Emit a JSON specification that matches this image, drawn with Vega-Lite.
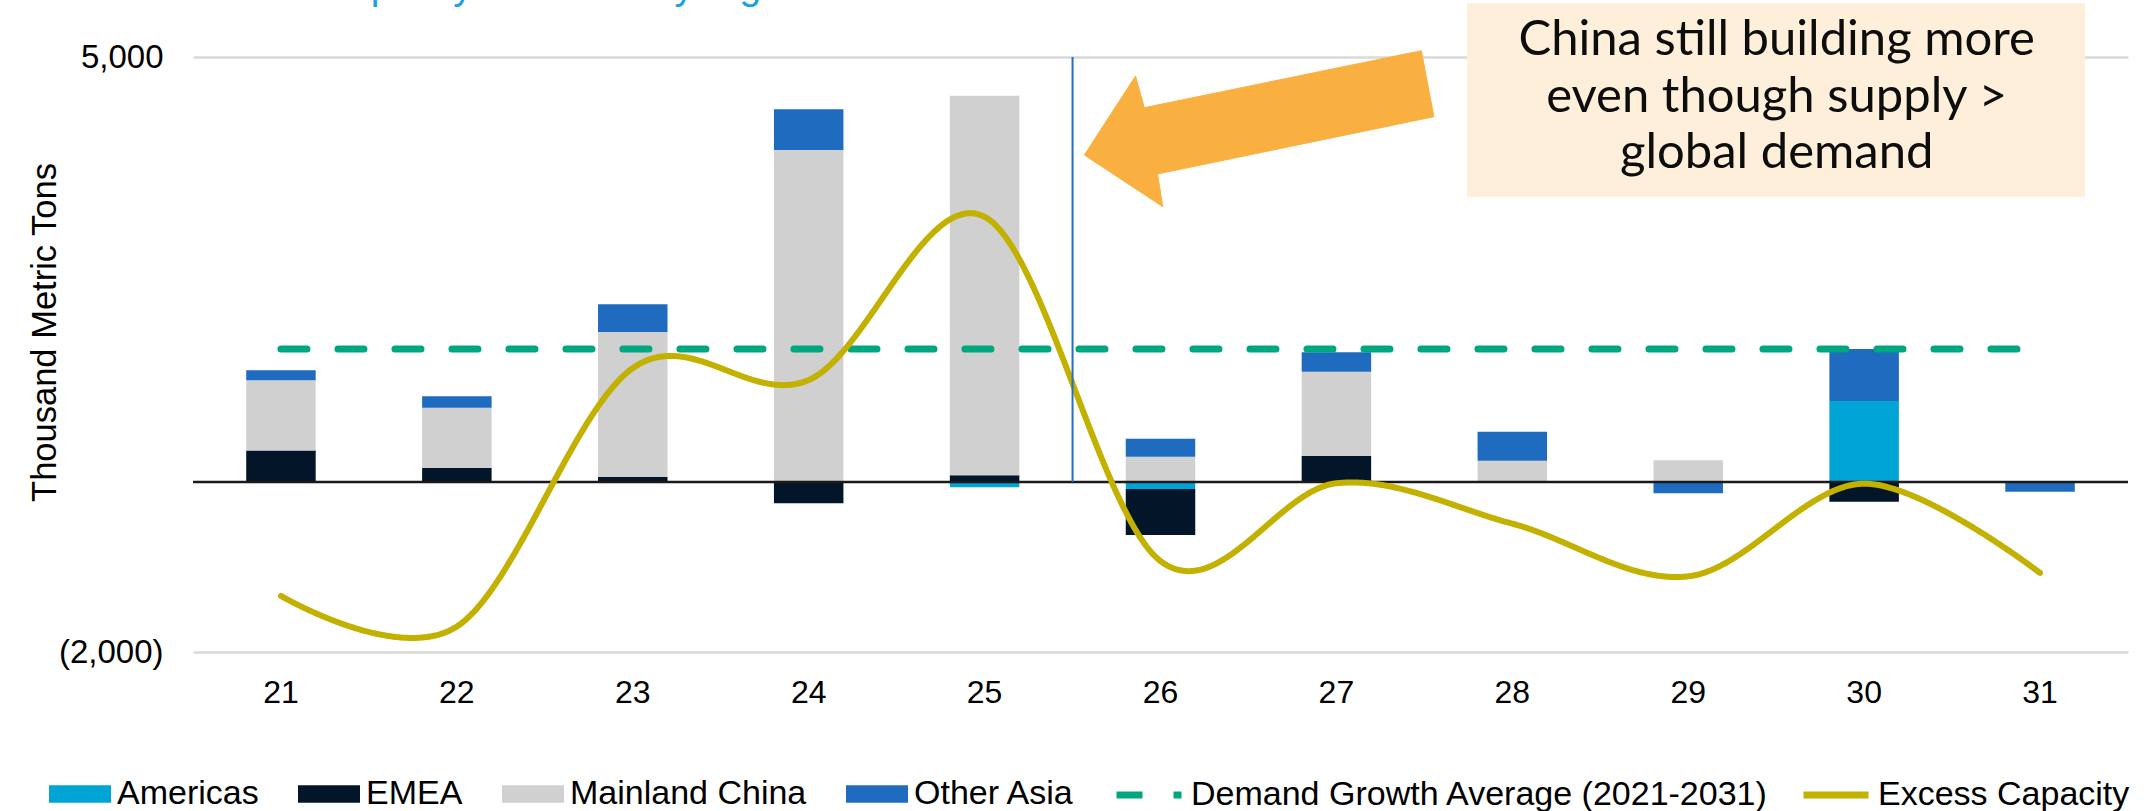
{
  "$schema": "https://vega.github.io/schema/vega-lite/v6.json",
  "width": 1935,
  "height": 595,
  "autosize": {"type": "none"},
  "padding": {"left": 193, "top": 57, "right": 21, "bottom": 159},
  "background": "white",
  "config": {"font": "Liberation Sans", "view": {"stroke": null}},
  "title": {
    "text": "Capacity Additions by region",
    "anchor": "start",
    "frame": "group",
    "font": "Liberation Sans",
    "fontSize": 39,
    "fontWeight": "normal",
    "color": "#1BA1DB",
    "dx": 128,
    "offset": -4
  },
  "datasets": {
    "bars": [
      {"year": "21", "region": "Americas", "value": 10},
      {"year": "21", "region": "EMEA", "value": 361},
      {"year": "21", "region": "Mainland China", "value": 827},
      {"year": "21", "region": "Other Asia", "value": 118},
      {"year": "22", "region": "EMEA", "value": 165},
      {"year": "22", "region": "Mainland China", "value": 709},
      {"year": "22", "region": "Other Asia", "value": 134},
      {"year": "23", "region": "EMEA", "value": 59},
      {"year": "23", "region": "Mainland China", "value": 1706},
      {"year": "23", "region": "Other Asia", "value": 326},
      {"year": "24", "region": "EMEA", "value": -251},
      {"year": "24", "region": "Mainland China", "value": 3906},
      {"year": "24", "region": "Other Asia", "value": 479},
      {"year": "25", "region": "Americas", "value": -62},
      {"year": "25", "region": "EMEA", "value": 79},
      {"year": "25", "region": "Mainland China", "value": 4466},
      {"year": "26", "region": "Americas", "value": -82},
      {"year": "26", "region": "EMEA", "value": -542},
      {"year": "26", "region": "Mainland China", "value": 298},
      {"year": "26", "region": "Other Asia", "value": 211},
      {"year": "27", "region": "EMEA", "value": 306},
      {"year": "27", "region": "Mainland China", "value": 992},
      {"year": "27", "region": "Other Asia", "value": 228},
      {"year": "28", "region": "Mainland China", "value": 251},
      {"year": "28", "region": "Other Asia", "value": 341},
      {"year": "29", "region": "Mainland China", "value": 255},
      {"year": "29", "region": "Other Asia", "value": -133},
      {"year": "30", "region": "Americas", "value": 953},
      {"year": "30", "region": "EMEA", "value": -232},
      {"year": "30", "region": "Other Asia", "value": 612},
      {"year": "31", "region": "Other Asia", "value": -114}
    ],
    "demand": [
      {"year": "21", "series": "Demand Growth Average (2021-2031)", "value": 1565},
      {"year": "22", "series": "Demand Growth Average (2021-2031)", "value": 1565},
      {"year": "23", "series": "Demand Growth Average (2021-2031)", "value": 1565},
      {"year": "24", "series": "Demand Growth Average (2021-2031)", "value": 1565},
      {"year": "25", "series": "Demand Growth Average (2021-2031)", "value": 1565},
      {"year": "26", "series": "Demand Growth Average (2021-2031)", "value": 1565},
      {"year": "27", "series": "Demand Growth Average (2021-2031)", "value": 1565},
      {"year": "28", "series": "Demand Growth Average (2021-2031)", "value": 1565},
      {"year": "29", "series": "Demand Growth Average (2021-2031)", "value": 1565},
      {"year": "30", "series": "Demand Growth Average (2021-2031)", "value": 1565},
      {"year": "31", "series": "Demand Growth Average (2021-2031)", "value": 1565}
    ],
    "excess": [
      {"year": "21", "series": "Excess Capacity", "value": -1340},
      {"year": "22", "series": "Excess Capacity", "value": -1700},
      {"year": "23", "series": "Excess Capacity", "value": 1340},
      {"year": "24", "series": "Excess Capacity", "value": 1200},
      {"year": "25", "series": "Excess Capacity", "value": 3120},
      {"year": "26", "series": "Excess Capacity", "value": -930},
      {"year": "27", "series": "Excess Capacity", "value": -15},
      {"year": "28", "series": "Excess Capacity", "value": -490},
      {"year": "29", "series": "Excess Capacity", "value": -1110},
      {"year": "30", "series": "Excess Capacity", "value": -20},
      {"year": "31", "series": "Excess Capacity", "value": -1070}
    ],
    "arrow": [
      {"i": 1, "x": 25.567, "v": 3847},
      {"i": 2, "x": 25.858, "v": 4776},
      {"i": 3, "x": 25.908, "v": 4404},
      {"i": 4, "x": 27.483, "v": 5074},
      {"i": 5, "x": 27.554, "v": 4298},
      {"i": 6, "x": 25.983, "v": 3624},
      {"i": 7, "x": 26.013, "v": 3239}
    ]
  },
  "layer": [
    {
      "layer": [
        {
          "data": {"name": "bars"},
          "mark": {"type": "bar"},
          "encoding": {
            "x": {
              "field": "year",
              "type": "ordinal",
              "scale": {"paddingInner": 0.605, "paddingOuter": 0.3025},
              "axis": {
                "title": null,
                "labelAngle": 0,
                "domain": false,
                "ticks": false,
                "tickSize": 0,
                "grid": false,
                "labelPadding": 25,
                "labelFont": "Liberation Sans",
                "labelFontSize": 32,
                "labelColor": "#000000"
              }
            },
            "y": {
              "field": "value",
              "type": "quantitative",
              "scale": {"domain": [-2000, 5000], "nice": false, "zero": false},
              "axis": {
                "title": "Thousand Metric Tons",
                "values": [-2000, 5000],
                "grid": true,
                "gridColor": "#D9D9D9",
                "gridWidth": 2.5,
                "domain": false,
                "ticks": false,
                "tickSize": 0,
                "labelPadding": 30,
                "labelFont": "Liberation Sans",
                "labelFontSize": 33,
                "labelColor": "#000000",
                "labelExpr": "datum.value < 0 ? '(' + format(-datum.value, ',') + ')' : format(datum.value, ',') + '\u00a0'",
                "titleFont": "Liberation Sans",
                "titleFontSize": 34.5,
                "titleFontWeight": "normal",
                "titleColor": "#000000",
                "titleAngle": 270,
                "titleAlign": "center",
                "titleBaseline": "alphabetic",
                "titleX": -138,
                "titleY": 275
              }
            },
            "fill": {
              "field": "region",
              "type": "nominal",
              "scale": {
                "domain": ["Americas", "EMEA", "Mainland China", "Other Asia"],
                "range": ["#00A5D5", "#021529", "#CFD0CF", "#1F6BC0"]
              },
              "legend": {
                "title": null,
                "orient": "none",
                "legendX": -144,
                "legendY": 706,
                "direction": "horizontal",
                "symbolType": "M-1,-0.284H1V0.284H-1Z",
                "symbolSize": 3844,
                "symbolStrokeWidth": 0,
                "labelFont": "Liberation Sans",
                "labelFontSize": 34,
                "labelColor": "#000000",
                "labelOffset": 6,
                "columnPadding": 39,
                "labelLimit": 1000,
                "padding": 0
              }
            },
            "order": {"field": "region", "type": "nominal", "sort": "ascending"}
          }
        },
        {
          "data": {"values": [{}]},
          "mark": {"type": "rule", "color": "#1A1A1A", "strokeWidth": 2.5},
          "encoding": {"y": {"datum": 0, "type": "quantitative"}}
        },
        {
          "data": {"name": "demand"},
          "mark": {"type": "line", "strokeWidth": 7, "strokeCap": "round"},
          "encoding": {
            "x": {"field": "year", "type": "ordinal"},
            "y": {"field": "value", "type": "quantitative"},
            "stroke": {
              "field": "series",
              "type": "nominal",
              "scale": {
                "domain": ["Demand Growth Average (2021-2031)", "Excess Capacity"],
                "range": ["#00A67D", "#C2B100"]
              },
              "legend": {
                "title": null,
                "orient": "none",
                "legendX": 920,
                "legendY": 702,
                "direction": "horizontal",
                "symbolType": "stroke",
                "symbolSize": 4225,
                "symbolStrokeWidth": 7,
                "labelFont": "Liberation Sans",
                "labelFontSize": 34,
                "labelColor": "#000000",
                "labelOffset": 6,
                "columnPadding": 20,
                "labelLimit": 1000,
                "padding": 0
              }
            },
            "strokeDash": {
              "field": "series",
              "type": "nominal",
              "scale": {
                "domain": ["Demand Growth Average (2021-2031)", "Excess Capacity"],
                "range": [[26, 31], [1, 0]]
              },
              "legend": {
                "title": null,
                "orient": "none",
                "legendX": 920,
                "legendY": 702,
                "direction": "horizontal",
                "symbolType": "stroke",
                "symbolSize": 4225,
                "symbolStrokeWidth": 7,
                "labelFont": "Liberation Sans",
                "labelFontSize": 34,
                "labelColor": "#000000",
                "labelOffset": 6,
                "columnPadding": 20,
                "labelLimit": 1000,
                "padding": 0
              }
            }
          }
        },
        {
          "data": {"name": "excess"},
          "mark": {"type": "line", "strokeWidth": 6, "interpolate": "cardinal", "strokeCap": "round"},
          "encoding": {
            "x": {"field": "year", "type": "ordinal"},
            "y": {"field": "value", "type": "quantitative"},
            "stroke": {"field": "series", "type": "nominal"},
            "strokeDash": {"field": "series", "type": "nominal"}
          }
        }
      ]
    },
    {
      "layer": [
        {
          "data": {"values": [{}]},
          "mark": {"type": "rule", "color": "#2370C8", "strokeWidth": 2},
          "encoding": {
            "x": {"datum": 25.5, "type": "quantitative", "scale": {"domain": [20.5, 31.5], "nice": false, "zero": false}, "axis": null},
            "y": {"datum": 0, "type": "quantitative"},
            "y2": {"datum": 5000}
          }
        },
        {
          "data": {"values": [{}]},
          "mark": {"type": "rect", "color": "#FDEFDA"},
          "encoding": {
            "x": {"datum": 27.742, "type": "quantitative"},
            "x2": {"datum": 31.256},
            "y": {"datum": 5635, "type": "quantitative"},
            "y2": {"datum": 3353}
          }
        },
        {
          "data": {"name": "arrow"},
          "mark": {"type": "line", "interpolate": "linear-closed", "fill": "#F9B041", "stroke": "#F9B041", "strokeWidth": 1},
          "encoding": {
            "x": {"field": "x", "type": "quantitative"},
            "y": {"field": "v", "type": "quantitative"},
            "order": {"field": "i", "type": "quantitative"}
          }
        },
        {
          "data": {"values": [{}]},
          "mark": {
            "type": "text",
            "text": "China still building more\neven though supply >\nglobal demand",
            "lineBreak": "\n",
            "lineHeight": 56.7,
            "font": "Lato",
            "fontSize": 49,
            "color": "#0D0D0D",
            "align": "center",
            "baseline": "alphabetic"
          },
          "encoding": {
            "x": {"datum": 29.503, "type": "quantitative"},
            "y": {"datum": 5023, "type": "quantitative"}
          }
        }
      ]
    }
  ],
  "resolve": {"scale": {"x": "independent"}}
}
